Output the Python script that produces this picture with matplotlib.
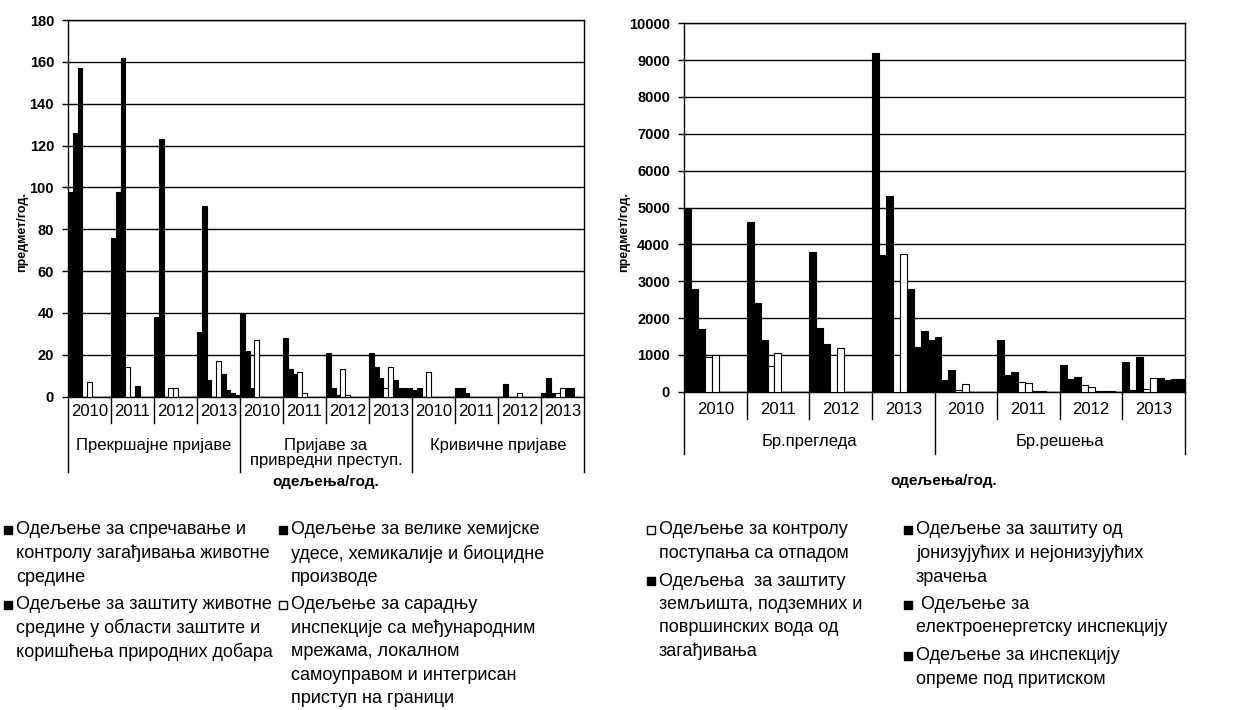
import matplotlib
matplotlib.use('Agg')
import matplotlib.pyplot as plt
from matplotlib.patches import Rectangle

plt.rcParams['font.family'] = ['Liberation Sans', 'DejaVu Sans']

# ---------------------------------------------------------------- data
years = ['2010', '2011', '2012', '2013']
report_types = ['Прекршајне пријаве', 'Пријаве за\nпривредни преступ.', 'Кривичне пријаве']
inspection_types = ['Бр.прегледа', 'Бр.решења']

legend_labels = [
    'Одељење за спречавање и\nконтролу загађивања животне\nсредине',
    'Одељење за заштиту животне\nсредине у области заштите и\nкоришћења природних добара',
    'Одељење за велике хемијске\nудесе, хемикалије и биоцидне\nпроизводе',
    'Одељење за сарадњу\nинспекције са међународним\nмрежама, локалном\nсамоуправом и интегрисан\nприступ на граници',
    'Одељење за контролу\nпоступања са отпадом',
    'Одељења  за заштиту\nземљишта, подземних и\nповршинских вода од\nзагађивања',
    'Одељење за заштиту од\nјонизујућих и нејонизујућих\nзрачења',
    ' Одељење за\nелектроенергетску инспекцију',
    'Одељење за инспекцију\nопреме под притиском',
]
dept_fill = ['black', 'black', 'black', 'white', 'white', 'black', 'black', 'black', 'black']

# rows follow legend_labels; columns: report type x year
reports = [
    [98, 76, 38, 31, 40, 28, 21, 21, 3, 4, 0, 2],
    [126, 98, 123, 91, 22, 13, 4, 14, 4, 4, 6, 9],
    [157, 162, 0, 8, 4, 11, 1, 9, 0, 2, 0, 2],
    [0, 14, 4, 0, 27, 12, 13, 4, 12, 0, 0, 2],
    [7, 0, 4, 17, 0, 2, 1, 14, 0, 0, 2, 4],
    [0, 5, 0, 11, 0, 0, 0, 8, 0, 0, 0, 4],
    [0, 0, 0, 3, 0, 0, 0, 4, 0, 0, 0, 4],
    [0, 0, 0, 2, 0, 0, 0, 4, 0, 0, 0, 0],
    [0, 0, 0, 1, 0, 0, 0, 4, 0, 0, 0, 0],
]

# rows follow legend_labels; columns: inspections 2010-2013, decisions 2010-2013
inspections = [
    [5000, 4600, 3800, 9200, 1490, 1390, 725, 815],
    [2800, 2400, 1720, 3700, 320, 450, 340, 50],
    [1700, 1400, 1300, 5300, 590, 545, 410, 950],
    [950, 700, 1000, 1000, 50, 270, 180, 60],
    [1000, 1060, 1180, 3750, 200, 230, 135, 370],
    [0, 0, 0, 2800, 0, 20, 30, 370],
    [0, 0, 0, 1200, 0, 20, 30, 320],
    [0, 0, 0, 1650, 0, 0, 30, 340],
    [0, 0, 0, 1400, 0, 0, 0, 340],
]

# ---------------------------------------------------------------- figure
W, H = 1233, 710
fig = plt.figure(figsize=(W / 100, H / 100), dpi=100)
fig.patch.set_facecolor('white')


def box(left, top, right, bottom):
    """Pixel box (origin top-left) -> figure fraction rect."""
    return [left / W, 1 - bottom / H, (right - left) / W, (bottom - top) / H]


def draw_panel(ax, values, groups, ymax, ystep, h_px,
               year_y, year_sep, group_y, group_sep):
    n_series = len(values)
    n_groups = len(groups) * len(years)
    bw = 1.0 / n_series
    for k, (vals, fill) in enumerate(zip(values, dept_fill)):
        xs = [g + (k + 0.5) * bw for g in range(n_groups)]
        ax.bar(xs, vals, width=bw, color=fill, edgecolor='black',
               linewidth=0.8, zorder=3)
    ax.set_xlim(0, n_groups)
    ax.set_ylim(0, ymax)
    ax.set_yticks(range(0, ymax + 1, ystep))
    ax.yaxis.grid(True, color='black', linewidth=1.0)
    ax.set_axisbelow(True)
    ax.set_xticks([])
    for s in ax.spines.values():
        s.set_color('black')
        s.set_linewidth(1.0)
    ax.tick_params(axis='y', direction='out', length=4, width=1,
                   labelsize=10.5, pad=6)
    for lab in ax.get_yticklabels():
        lab.set_fontweight('bold')

    tr = ax.get_xaxis_transform()
    f = lambda px: -px / h_px
    # year row
    for g in range(n_groups):
        ax.text(g + 0.5, f(year_y), years[g % len(years)], transform=tr,
                ha='center', va='center', fontsize=12, clip_on=False)
        if g % len(years) != 0:
            ax.plot([g, g], [0, f(year_sep)], transform=tr, color='black',
                    lw=1, clip_on=False)
    # group row
    for i, name in enumerate(groups):
        c = i * len(years) + len(years) / 2
        ax.text(c, f(group_y), name, transform=tr, ha='center', va='top',
                fontsize=12, linespacing=1.0, clip_on=False)
    for i in range(len(groups) + 1):
        x = i * len(years)
        ax.plot([x, x], [0, f(group_sep)], transform=tr, color='black',
                lw=1, clip_on=False)


# left panel: reports
ax1 = fig.add_axes(box(68, 20, 584, 396.7))
draw_panel(ax1, reports, report_types, 180, 20, 376.7,
           year_y=15, year_sep=26, group_y=41, group_sep=75)

# right panel: inspections and decisions
ax2 = fig.add_axes(box(684, 23.3, 1185, 391.7))
draw_panel(ax2, inspections, inspection_types, 10000, 1000, 368.4,
           year_y=18, year_sep=27, group_y=42, group_sep=62)

# axis titles
fig.text(22 / W, 1 - 232 / H, 'предмет/год.', rotation=90, ha='center',
         va='center', fontsize=9, fontweight='bold')
fig.text(624 / W, 1 - 232 / H, 'предмет/год.', rotation=90, ha='center',
         va='center', fontsize=9, fontweight='bold')
fig.text(326 / W, 1 - 482 / H, 'одељења/год.', ha='center', va='center',
         fontsize=11, fontweight='bold')
fig.text(944 / W, 1 - 481 / H, 'одељења/год.', ha='center', va='center',
         fontsize=11, fontweight='bold')

# ---------------------------------------------------------------- legend
line_h = 23.5
entry_gap = 4
first_row = 530
columns = [(8, [0, 1]), (283, [2, 3]), (651, [4, 5]), (908, [6, 7, 8])]
sq = 8
for x0, idxs in columns:
    y = first_row
    for i in idxs:
        fig.patches.append(Rectangle(((x0 - sq / 2) / W, 1 - (y + sq / 2) / H),
                                     sq / W, sq / H, transform=fig.transFigure,
                                     facecolor=dept_fill[i], edgecolor='black',
                                     linewidth=1))
        lines = legend_labels[i].split('\n')
        for j, ln in enumerate(lines):
            fig.text((x0 + 8) / W, 1 - (y + j * line_h) / H, ln,
                     ha='left', va='center', fontsize=13)
        y += len(lines) * line_h + entry_gap

fig.savefig('out.png', dpi=100, facecolor='white')
